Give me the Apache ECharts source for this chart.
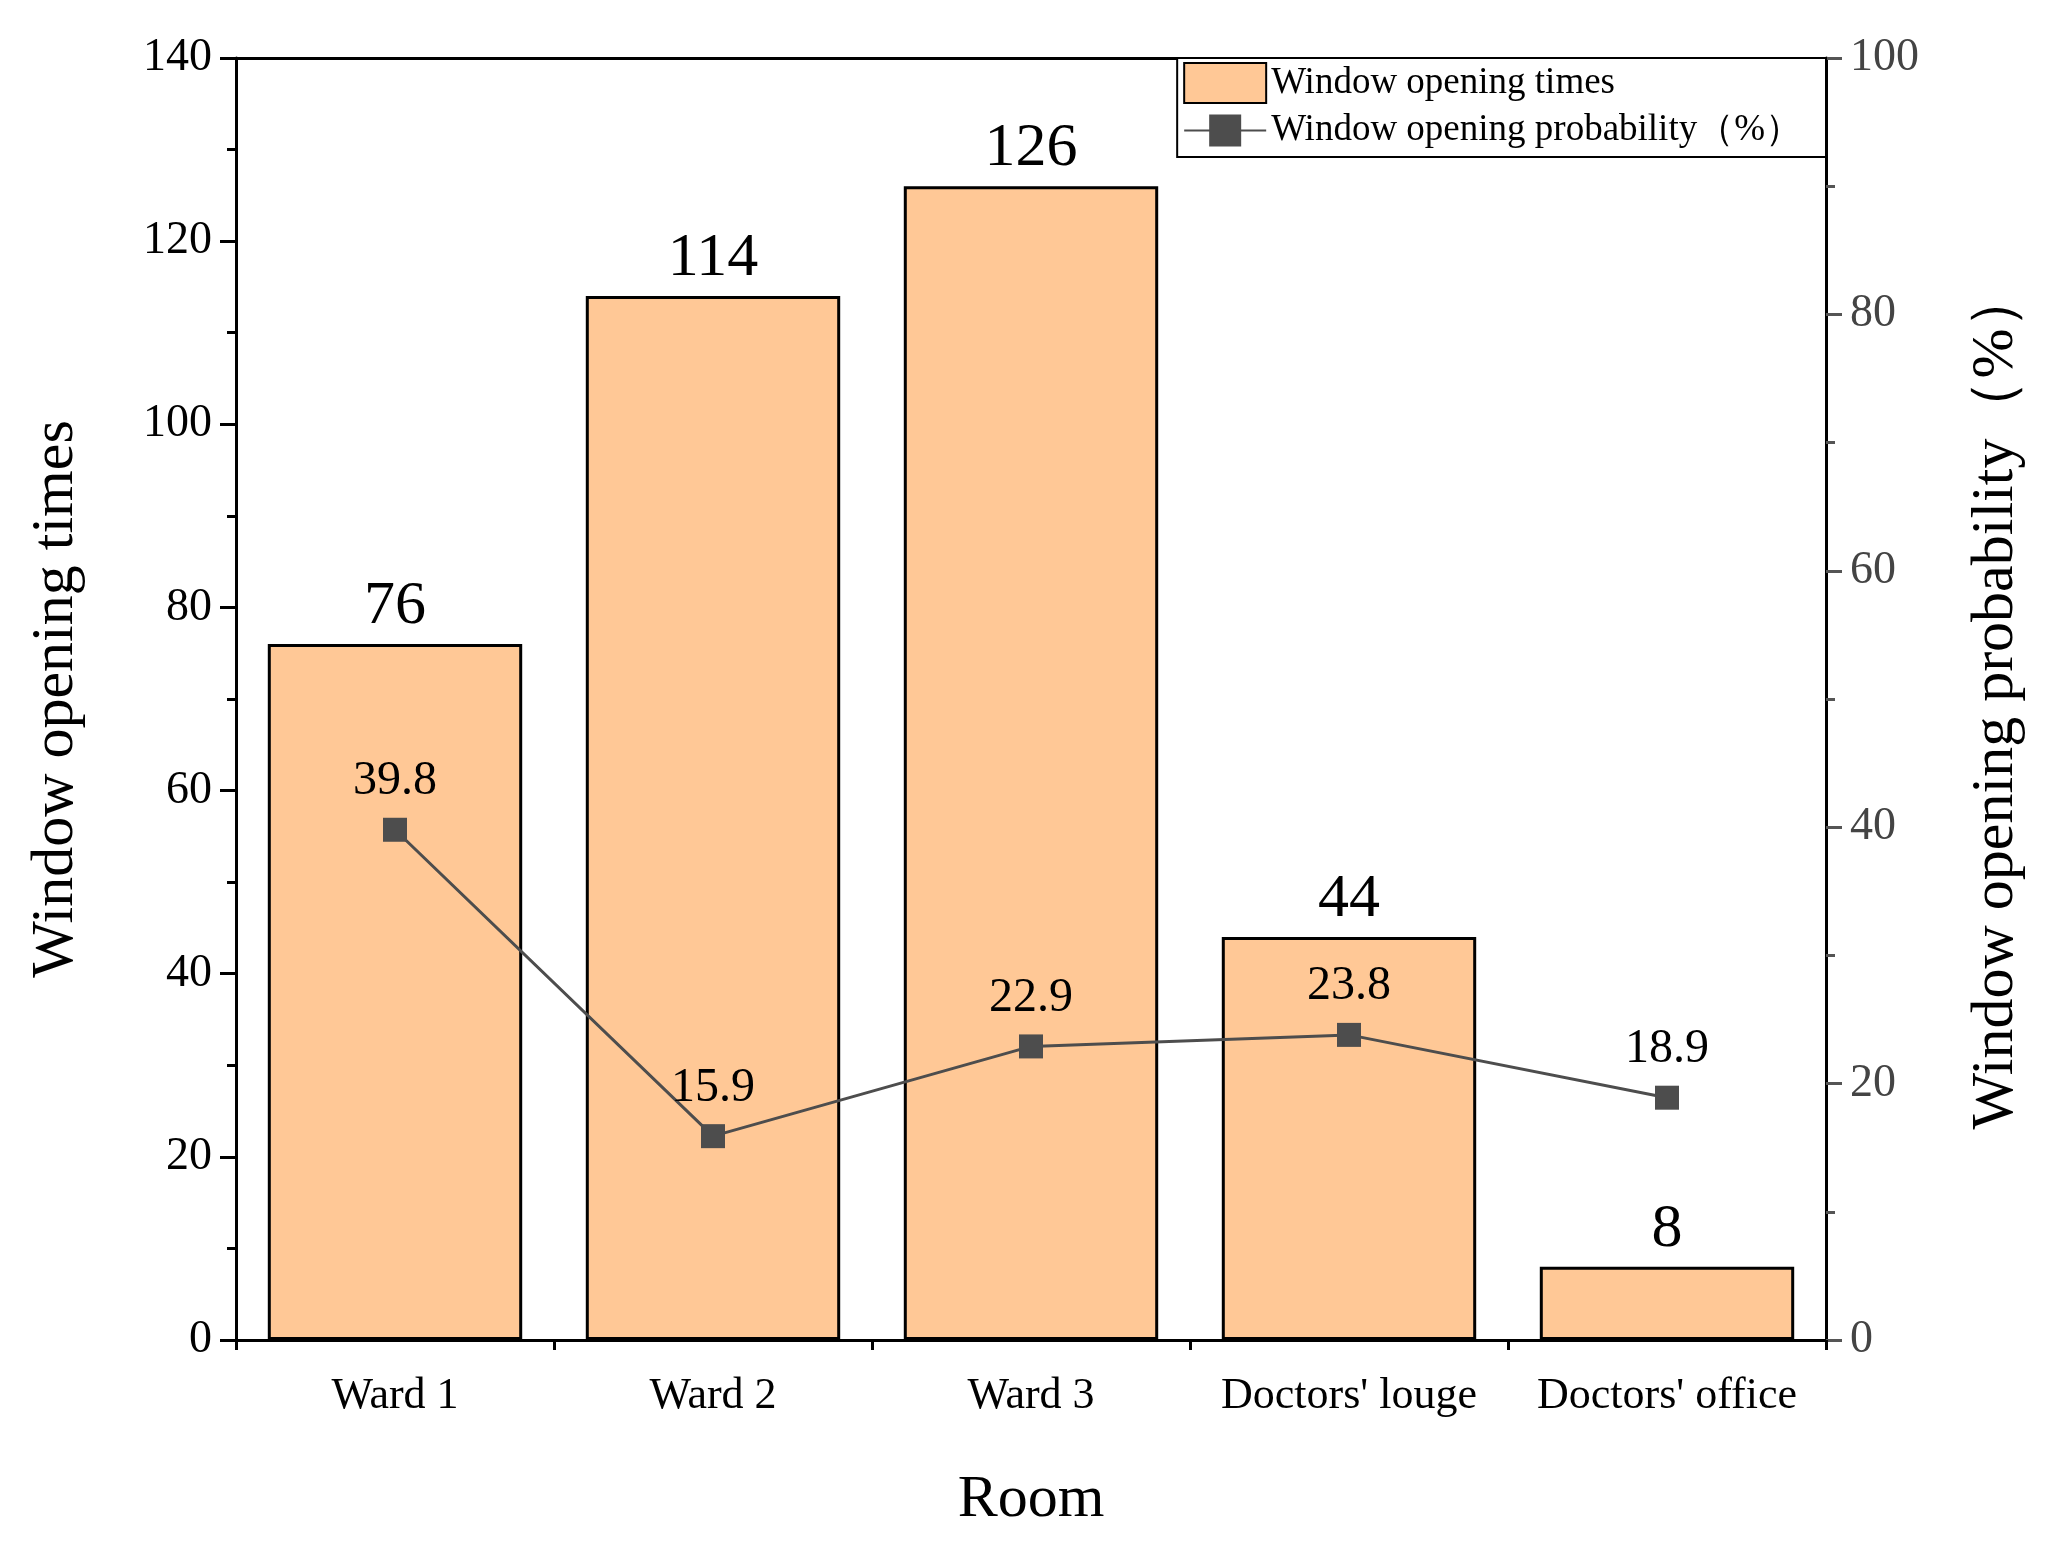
<!DOCTYPE html><html><head><meta charset="utf-8"><script src="https://cdn.jsdelivr.net/npm/echarts@6/dist/echarts.min.js"></script><style>body{margin:0}#c{width:2057px;height:1546px}</style></head><body><div id="c"></div><script>
const categories=["Ward 1","Ward 2","Ward 3","Doctors' louge","Doctors' office"];
const times=[76,114,126,44,8];
const prob=[39.8,15.9,22.9,23.8,18.9];
const F='Liberation Serif';
const c=echarts.init(document.getElementById('c'));
c.setOption({
animation:false,
textStyle:{fontFamily:F,color:'#000'},
grid:{left:236,right:231,top:58,bottom:206},
legend:{right:231,top:58,orient:'vertical',itemWidth:82,itemHeight:40,itemGap:8,padding:[4,24,8,6],
 borderColor:'#000',borderWidth:2,backgroundColor:'#fff',textStyle:{fontFamily:F,fontSize:37,color:'#000'},
 data:[{name:'Window opening times',icon:'rect'},{name:'Window opening probability（%）'}]},
xAxis:[{type:'category',data:categories,axisLine:{lineStyle:{color:'#000',width:3}},
 axisTick:{alignWithLabel:true,length:18,lineStyle:{width:3,color:'#000'}},
 axisLabel:{fontSize:44,color:'#000',margin:34,fontFamily:F,interval:0},
 name:'Room',nameLocation:'middle',nameGap:130,nameTextStyle:{fontSize:60,fontFamily:F,color:'#000'}},
 {type:'category',data:categories,position:'bottom',axisLine:{show:true,lineStyle:{color:'#000',width:3}},axisLabel:{show:false},
 axisTick:{show:true,length:10,lineStyle:{width:3,color:'#000'}}},
 {type:'category',data:categories,position:'top',axisLine:{lineStyle:{color:'#000',width:3}},axisLabel:{show:false},axisTick:{show:false}}],
yAxis:[{type:'value',min:0,max:140,interval:20,axisLine:{show:true,lineStyle:{color:'#000',width:3}},
 axisTick:{show:true,length:16,lineStyle:{width:3}},minorTick:{show:true,splitNumber:2,length:9,lineStyle:{color:'#000',width:3}},
 splitLine:{show:false},axisLabel:{fontSize:46,color:'#000',margin:24,fontFamily:F},
 name:'Window opening times',nameLocation:'middle',nameGap:150,nameTextStyle:{fontSize:60,fontFamily:F,color:'#000'}},
 {type:'value',min:0,max:100,interval:20,axisLine:{show:true,lineStyle:{color:'#000',width:3}},
 axisTick:{show:true,length:16,lineStyle:{width:3,color:'#555'}},minorTick:{show:true,splitNumber:2,length:9,lineStyle:{color:'#555',width:3}},
 splitLine:{show:false},axisLabel:{fontSize:46,color:'#444',margin:24,fontFamily:F},
 name:'Window opening probability（%）',nameLocation:'middle',nameGap:140,nameRotate:90,nameTextStyle:{fontSize:60,fontFamily:F,color:'#000'}}],
series:[{name:'Window opening times',type:'bar',data:times,barWidth:'80%',
 itemStyle:{color:'#FFC896',borderColor:'#000',borderWidth:3},
 label:{show:true,position:'top',fontSize:62,color:'#000',fontFamily:F,distance:6}},
 {name:'Window opening probability（%）',type:'line',yAxisIndex:1,data:prob,symbol:'rect',symbolSize:24,
 lineStyle:{color:'#4d4d4d',width:3},itemStyle:{color:'#4d4d4d'},
 label:{show:true,position:'top',fontSize:48,color:'#000',fontFamily:F,distance:12}}]
});
</script></body></html>
